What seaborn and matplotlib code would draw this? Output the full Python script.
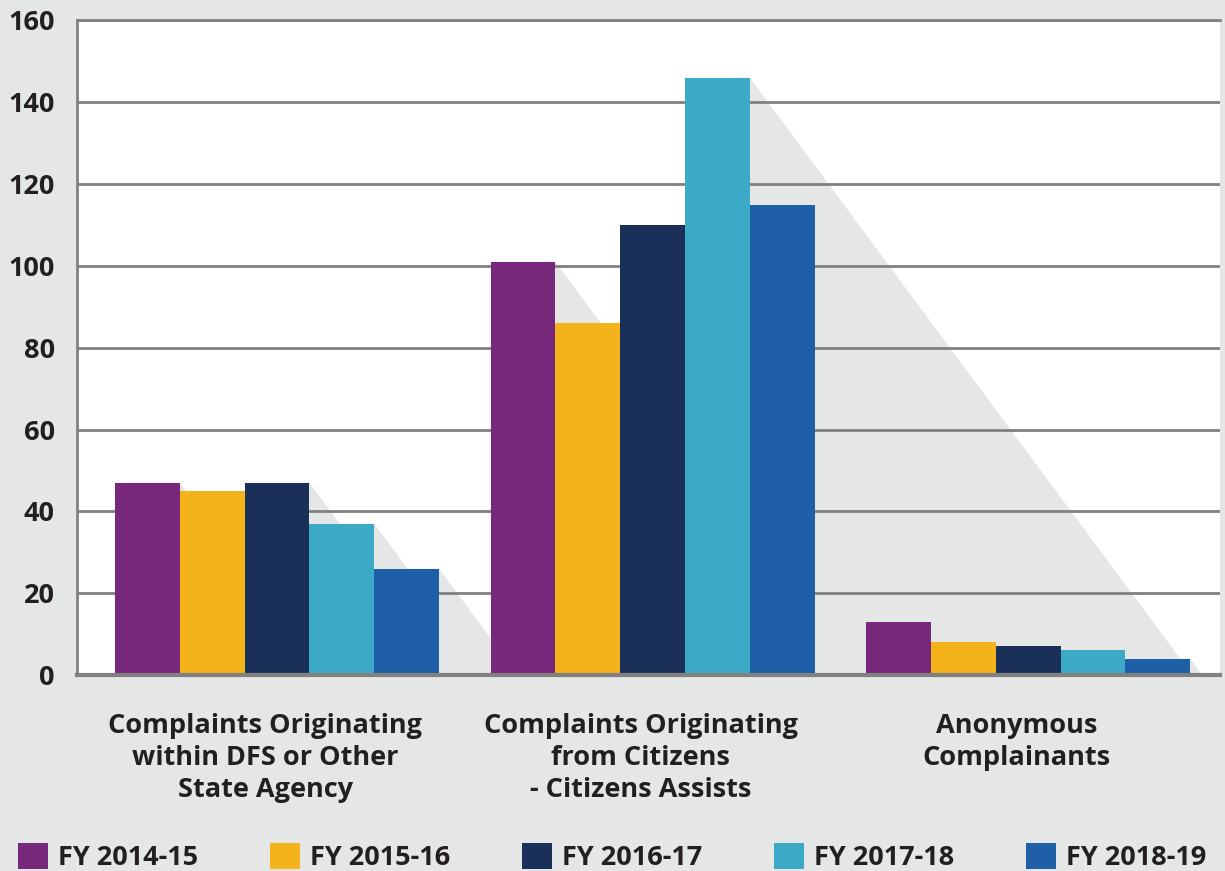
import matplotlib
matplotlib.use("Agg")
import matplotlib.pyplot as plt
import matplotlib.transforms as mtransforms
import seaborn as sns
import pandas as pd

categories = [
    "Complaints Originating\nwithin DFS or Other\nState Agency",
    "Complaints Originating\nfrom Citizens\n- Citizens Assists",
    "Anonymous\nComplainants",
]
years = ["FY 2014-15", "FY 2015-16", "FY 2016-17", "FY 2017-18", "FY 2018-19"]
fy_2014_15 = [47, 101, 13]
fy_2015_16 = [45, 86, 8]
fy_2016_17 = [47, 110, 7]
fy_2017_18 = [37, 146, 6]
fy_2018_19 = [26, 115, 4]
y_ticks = [0, 20, 40, 60, 80, 100, 120, 140, 160]

colors = ["#78287a", "#f5b31b", "#1a3059", "#3caac6", "#1f5fa8"]
bg = "#e5e7e6"
grid_gray = "#808080"
text_col = "#231f20"
fs = 19.5

rows = []
for year, vals in zip(years, [fy_2014_15, fy_2015_16, fy_2016_17, fy_2017_18, fy_2018_19]):
    for cat, v in zip(categories, vals):
        rows.append({"category": cat, "year": year, "count": v})
df = pd.DataFrame(rows)

sns.set_style("white")
plt.rcParams["font.family"] = ["Open Sans", "DejaVu Sans"]

fig = plt.figure(figsize=(12.25, 8.71), dpi=100, facecolor=bg)
ax = fig.add_axes([0.0629, 0.2250, 0.9331, 0.7515])
ax.set_facecolor("white")

sns.barplot(data=df, x="category", y="count", hue="year", hue_order=years,
            palette=colors, saturation=1, width=0.863, linewidth=0,
            ax=ax, zorder=2)

# diagonal "shadow" cast by each bar, down and to the right
k = 0.00807
for bar in ax.patches:
    x0 = bar.get_x()
    x1 = x0 + bar.get_width()
    h = bar.get_height()
    if h <= 0:
        continue
    ax.fill([x0, x0, x1, x1 + k * h], [0, h, h, 0], color=bg, lw=0, zorder=0.2)

ax.set_xlim(-0.5326, 2.511)
ax.set_ylim(0, 160)
ax.set_yticks(y_ticks)
ax.set_axisbelow(True)
ax.yaxis.grid(True, color=grid_gray, lw=2.0, zorder=0.5)
ax.xaxis.grid(False)

for side in ["left", "bottom", "top"]:
    ax.spines[side].set_visible(True)
    ax.spines[side].set_color(grid_gray)
ax.spines["left"].set_linewidth(2.0)
ax.spines["top"].set_linewidth(2.0)
ax.spines["bottom"].set_linewidth(3.0)
ax.spines["right"].set_visible(False)

ax.set_xlabel("")
ax.set_ylabel("")
ax.tick_params(axis="y", length=2, width=2, color=grid_gray, pad=14,
               labelsize=fs, labelcolor=text_col)
ax.tick_params(axis="x", length=0, pad=27, labelsize=fs, labelcolor=text_col)
for lab in ax.get_yticklabels():
    lab.set_fontweight("bold")
shift = mtransforms.ScaledTranslation(-0.12, 0, fig.dpi_scale_trans)
for lab in ax.get_xticklabels():
    lab.set_fontweight("bold")
    lab.set_linespacing(1.3)
    lab.set_transform(lab.get_transform() + shift)

sns.move_legend(ax, "center left", bbox_to_anchor=(0.0147, 14 / 871),
                bbox_transform=fig.transFigure, ncol=5, frameon=False,
                title=None, fontsize=fs, handlelength=1.1, handleheight=1.1,
                handletextpad=0.38, columnspacing=2.65, borderpad=0,
                borderaxespad=0)
for t in ax.get_legend().get_texts():
    t.set_fontweight("bold")
    t.set_color(text_col)

fig.savefig("out.png", dpi=100, facecolor=bg)
